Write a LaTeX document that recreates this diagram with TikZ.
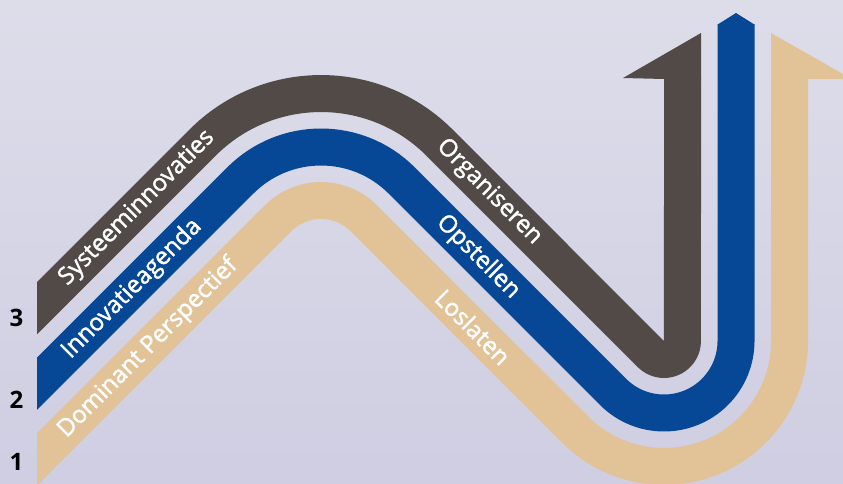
\documentclass[tikz,border=0pt]{standalone}
\usepackage{fontspec}
\setmainfont{Open Sans}
\newfontfamily\labelfont{Open Sans}[FakeBold=1.6]
\definecolor{bandDark}{RGB}{82,74,71}
\definecolor{bandBlue}{RGB}{6,72,150}
\definecolor{bandTan}{RGB}{226,195,151}
\definecolor{bgTop}{RGB}{221,221,234}
\definecolor{bgBot}{RGB}{207,206,226}
\tikzset{
  band/.style={line width=37pt, line cap=butt, line join=round},
  lbl/.style={text=white, inner sep=0pt, font=\labelfont\fontsize{24}{24}\selectfont},
  num/.style={text=black, inner sep=0pt, font=\fontsize{24}{24}\selectfont\bfseries},
}
\begin{document}
\begin{tikzpicture}[x=1pt, y=-1pt]
\useasboundingbox (0,0) rectangle (843,483);
\shade[top color=bgTop, bottom color=bgBot] (0,0) rectangle (843,483);
\begin{scope}
\clip (37,0) rectangle (843,483);
% tan band (1)
\draw[band, bandTan] (0,496.4) -- (278.2,218.2)
  arc[start angle=225, end angle=315, radius=60.5]
  -- (575.3,429.7)
  arc[start angle=135, end angle=0, radius=125.5]
  -- (789.5,78);
\fill[bandTan] (771,79) -- (771,33) -- (850,78) -- (850,79) -- cycle;
% blue band (2)
\draw[band, bandBlue] (0,420.8) -- (240.4,180.4)
  arc[start angle=225, end angle=315, radius=114]
  -- (613.1,391.9)
  arc[start angle=135, end angle=0, radius=72]
  -- (736,24);
\fill[bandBlue] (717.5,24.6) -- (736,13) -- (754.5,24.6) -- cycle;
% dark band (3)
\draw[band, bandDark] (0,345.2) -- (202.6,142.6)
  arc[start angle=225, end angle=315, radius=167.5]
  -- (650.9,354.1)
  arc[start angle=135, end angle=0, radius=18.5]
  -- (682.5,78);
\fill[bandDark] (664,79) -- (623,78) -- (701,33) -- (701,79) -- cycle;
\end{scope}
% labels
\node[lbl, rotate=45] (sys) at (137,208) {Systeeminnovaties};
\node[lbl, rotate=45] (inn) at (132,289) {Innovatieagenda};
\node[lbl, rotate=45] (dom) at (148,348) {Dominant Perspectief};
\node[lbl, rotate=-45] (org) at (489,192) {Organiseren};
\node[lbl, rotate=-45] (ops) at (478,257) {Opstellen};
\node[lbl, rotate=-45] (los) at (473,327) {Loslaten};
\node[num] (n3) at (16.5,318) {3};
\node[num] (n2) at (16.5,400) {2};
\node[num] (n1) at (16.5,462) {1};
\end{tikzpicture}
\end{document}
